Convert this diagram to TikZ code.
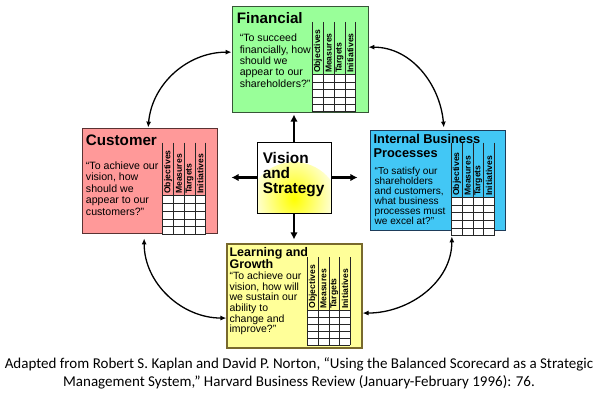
\documentclass[tikz,border=0pt]{standalone}
\usepackage{fontspec}
\setmainfont{Liberation Sans}
\newfontfamily\captionfont{Carlito}
\usetikzlibrary{arrows.meta, positioning, calc}

\definecolor{finfill}{RGB}{153,255,153}
\definecolor{custfill}{RGB}{255,153,153}
\definecolor{intfill}{RGB}{66,199,245}
\definecolor{learnfill}{RGB}{255,255,153}
\definecolor{finedge}{RGB}{55,85,55}
\definecolor{custedge}{RGB}{90,50,50}
\definecolor{intedge}{RGB}{30,60,90}
\definecolor{learnedge}{RGB}{120,105,45}

% scorecard grid: box, header top, cells top, bottom (px from box corner)
\newcommand{\scoregrid}[4]{%
  \begin{scope}[shift={(#1.north west)}]
    \fill[white] (81,#3) rectangle (124,#4);
    \foreach \i in {0,...,4}
      \draw[gridline] (81+10.75*\i,#2) -- (81+10.75*\i,#4);
    \foreach \j in {0,...,5}
      \draw[gridline] (81,{#3+(#4-#3)*\j/5}) -- (124,{#3+(#4-#3)*\j/5});
    \foreach \t [count=\k from 0] in {Objectives,Measures,Targets,Initiatives}
      \node[colhead] (#1-h\k) at (86.4+10.75*\k,#3-1) {\t};
  \end{scope}}

\begin{document}
\begin{tikzpicture}[x=1pt, y=-1pt,
    >=Latex,
    font=\fontsize{10.6}{11.4}\selectfont,
    card/.style={
        draw,
        line width=0.8pt,
        minimum width=135pt,
        minimum height=104pt,
        inner sep=0pt
    },
    visionbox/.style={
        draw,
        line width=0.9pt,
        fill=white,
        minimum width=74pt,
        minimum height=71pt,
        inner sep=0pt,
        path picture={
            \shade[inner color=yellow, outer color=white]
                ([yshift=5pt]path picture bounding box.south) circle (46);
        }
    },
    cardtitle/.style={
        anchor=north west,
        inner sep=0pt,
        align=left,
        font=\bfseries\fontsize{15.2}{15}\selectfont
    },
    quote/.style={
        anchor=north west,
        inner sep=0pt,
        align=left
    },
    colhead/.style={
        rotate=90,
        anchor=west,
        inner sep=0.6pt,
        font=\bfseries\fontsize{8.6}{9}\selectfont
    },
    gridline/.style={
        line width=0.7pt,
        black!85
    },
    flow/.style={
        -{Latex[length=7pt,width=7.5pt]},
        line width=2.2pt
    },
    cycleflow/.style={
        {Latex[length=6pt,width=5pt]}-{Latex[length=6pt,width=5pt]},
        line width=1.3pt
    },
    caption/.style={
        align=center,
        inner sep=0pt,
        font=\captionfont\fontsize{15}{18}\selectfont
    }
]

\useasboundingbox (0,0) rectangle (598,408);

% =====================
% Centre
% =====================

\node[visionbox] (vision) at (294,177.5) {};
\node[cardtitle, font=\bfseries\fontsize{15.4}{15}\selectfont]
    (visiontext) at ([shift={(6,11)}]vision.north west) {Vision\\and\\Strategy};

% =====================
% Four perspectives
% =====================

\node[card, fill=finfill, draw=finedge, above=29pt of vision, xshift=6pt,
    minimum width=136pt, minimum height=106pt] (fin) {};
\node[card, fill=custfill, draw=custedge, left=39pt of vision, yshift=-3pt,
    minimum height=105pt] (cust) {};
\node[card, fill=intfill, draw=intedge, right=39pt of vision, yshift=-2.5pt,
    minimum height=100pt] (int) {};
\node[card, fill=learnfill, draw=learnedge, line width=1.2pt, below=30pt of vision,
    xshift=0.5pt] (learn) {};

\scoregrid{fin}{16}{69}{106}
\scoregrid{cust}{15}{68}{107}
\scoregrid{int}{13}{68}{106}
\scoregrid{learn}{14}{67}{102}

\node[cardtitle] (fintitle) at ([shift={(5,7)}]fin.north west) {Financial};
\node[quote] (finquote) at ([shift={(8,28)}]fin.north west)
    {“To succeed\\financially, how\\should we\\appear to our\\shareholders?”};

\node[cardtitle] (custtitle) at ([shift={(4,7)}]cust.north west) {Customer};
\node[quote] (custquote) at ([shift={(4,34)}]cust.north west)
    {“To achieve our\\vision, how\\should we\\appear to our\\customers?”};

\node[cardtitle, font=\bfseries\fontsize{12.8}{14.5}\selectfont]
    (inttitle) at ([shift={(3,4)}]int.north west) {Internal Business\\Processes};
\node[quote, font=\fontsize{10.1}{10}\selectfont] (intquote) at ([shift={(4,37.5)}]int.north west)
    {“To satisfy our\\shareholders\\and customers,\\what business\\processes must\\we excel at?”};

\node[cardtitle, font=\bfseries\fontsize{12.5}{12}\selectfont]
    (learntitle) at ([shift={(3,4)}]learn.north west) {Learning and\\Growth};
\node[quote, font=\fontsize{10.5}{10.6}\selectfont] (learnquote) at ([shift={(3,28.5)}]learn.north west)
    {“To achieve our\\vision, how will\\we sustain our\\ability to\\change and\\improve?”};

% =====================
% Arrows
% =====================

\draw[flow, shorten >=2pt] (vision.north) -- (vision.north |- fin.south);
\draw[flow, shorten >=14pt] (vision.west) -- (vision.west -| cust.east);
\draw[flow, shorten >=13pt] (vision.east) -- (vision.east -| int.west);
\draw[flow, shorten >=4pt] (vision.south) -- (vision.south |- learn.north);

\draw[cycleflow] ([yshift=7pt]fin.west) to[out=180, in=85] ([xshift=-1.5pt]cust.north);
\draw[cycleflow] ([yshift=12pt]fin.east) to[out=0, in=95] ([xshift=5.5pt,yshift=2pt]int.north);
\draw[cycleflow] ([xshift=-5.5pt,yshift=-5pt]cust.south) to[out=-90, in=180] ([yshift=-22pt]learn.west);
\draw[cycleflow] ([xshift=13.5pt,yshift=-6pt]int.south) to[out=-90, in=0] ([yshift=-17pt]learn.east);

% =====================
% Source
% =====================

\node[caption, anchor=north] (source) at (299,357)
    {Adapted from Robert S. Kaplan and David P. Norton, “Using the Balanced Scorecard as a Strategic\\
     Management System,” Harvard Business Review (January-February 1996): 76.};

\end{tikzpicture}
\end{document}
